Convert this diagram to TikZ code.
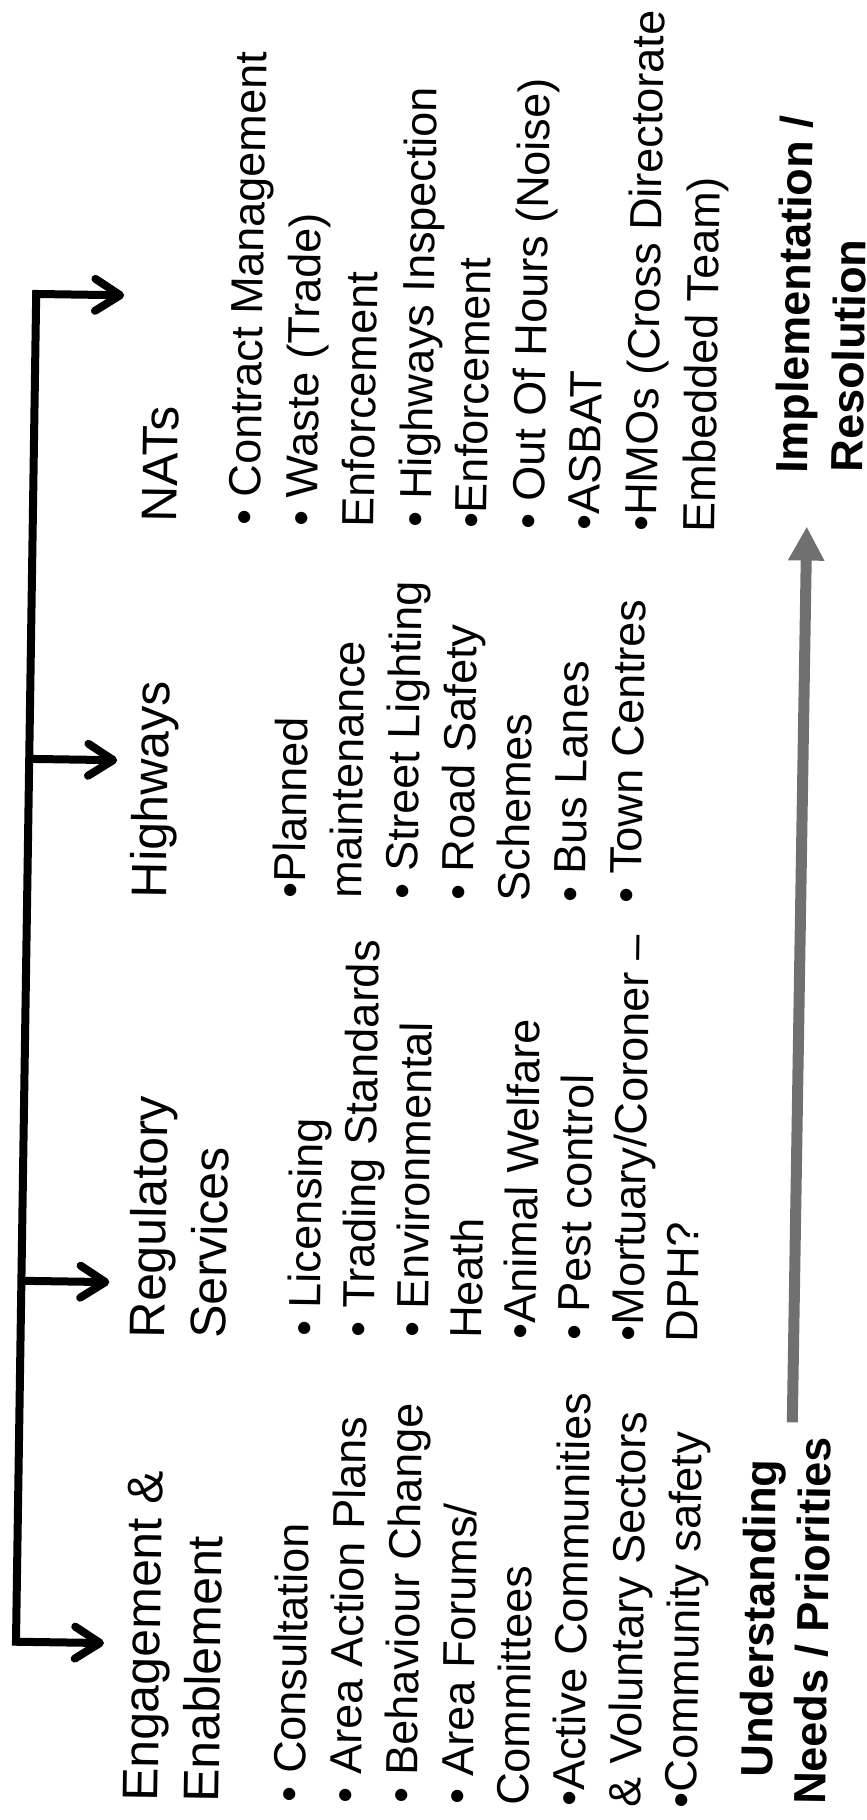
\documentclass[tikz,border=0pt]{standalone}
\usepackage{fontspec}
\setmainfont{Liberation Sans}
\usetikzlibrary{arrows.meta}
\definecolor{flowgray}{RGB}{112,112,112}
\begin{document}
\begin{tikzpicture}[x=1pt,y=-1pt,
  txt/.style={rotate=90, anchor=base west, inner sep=0pt, outer sep=0pt,
              font=\fontsize{45}{54}\selectfont},
  headtxt/.style={txt, font=\fontsize{50}{60}\selectfont},
  boldtxt/.style={txt, font=\fontsize{45}{54}\selectfont\bfseries},
  bracket/.style={line width=8pt, line join=miter, draw=black},
  barb/.tip={Straight Barb[length=25pt,width=32pt,round]},
  flow/.style={line width=11pt, draw=flowgray,
               -{Triangle[length=34pt,width=34pt,fill=flowgray]}},
]
\useasboundingbox (0,0) rectangle (867,1820);
\begin{scope}[rotate around={-0.86:(433.5,910)}, transform shape]

% ---- bracket feeding the four service groups ----
\coordinate (b4) at (27,300);
\coordinate (b3) at (27,765);
\coordinate (b2) at (27,1287);
\coordinate (b1) at (27,1648);
\coordinate (t4) at (115,300);
\coordinate (t3) at (115,765);
\coordinate (t2) at (115,1287);
\coordinate (t1) at (115,1648);
\draw[bracket, barb-barb] (t4) -- (b4) -- (b1) -- (t1);
\draw[bracket, -barb] (b3) -- (t3);
\draw[bracket, -barb] (b2) -- (t2);

% ---- Engagement & Enablement ----
\node[headtxt] (h1a) at (171,1806) {Engagement \&};
\node[headtxt] (h1b) at (232,1806) {Enablement};
\node[txt] (e1) at (318,1804) {• Consultation};
\node[txt] (e2) at (374,1804) {• Area Action Plans};
\node[txt] (e3) at (430,1804) {• Behaviour Change};
\node[txt] (e4) at (486,1804) {• Area Forums/};
\node[txt] (e5) at (542,1804) {Committees};
\node[txt] (e6) at (598,1804) {•Active Communities};
\node[txt] (e7) at (654,1804) {\& Voluntary Sectors};
\node[txt] (e8) at (710,1804) {•Community safety};

% ---- Regulatory Services ----
\node[headtxt] (h2a) at (171,1342) {Regulatory};
\node[headtxt] (h2b) at (232,1342) {Services};
\node[txt] (r1) at (326,1338) {• Licensing};
\node[txt] (r2) at (380,1338) {• Trading Standards};
\node[txt] (r3) at (434,1338) {• Environmental};
\node[txt] (r4) at (488,1338) {Heath};
\node[txt] (r5) at (542,1338) {•Animal Welfare};
\node[txt] (r6) at (596,1338) {• Pest control};
\node[txt] (r7) at (650,1338) {•Mortuary/Coroner –};
\node[txt] (r8) at (704,1338) {DPH?};

% ---- Highways ----
\node[headtxt] (h3) at (166,902) {Highways};
\node[txt] (w1) at (305,900) {•Planned};
\node[txt] (w2) at (361,900) {maintenance};
\node[txt] (w3) at (417,900) {• Street Lighting};
\node[txt] (w4) at (473,900) {• Road Safety};
\node[txt] (w5) at (529,900) {Schemes};
\node[txt] (w6) at (585,900) {• Bus Lanes};
\node[txt] (w7) at (641,900) {• Town Centres};

% ---- NATs ----
\node[headtxt] (h4) at (171,526) {NATs};
\node[txt] (n1) at (254,528) {• Contract Management};
\node[txt] (n2) at (311,528) {• Waste (Trade)};
\node[txt] (n3) at (368,528) {Enforcement};
\node[txt] (n4) at (425,528) {• Highways Inspection};
\node[txt] (n5) at (481,528) {•Enforcement};
\node[txt] (n6) at (538,528) {• Out Of Hours (Noise)};
\node[txt] (n7) at (594,528) {•ASBAT};
\node[txt] (n8) at (651,528) {•HMOs (Cross Directorate};
\node[txt] (n9) at (709,528) {Embedded Team)};

% ---- direction of travel ----
\node[boldtxt] (u1) at (785,1772) {Understanding};
\node[boldtxt] (u2) at (839,1799) {Needs / Priorities};
\node[boldtxt] (i1) at (801,468) {Implementation /};
\node[boldtxt] (i2) at (856,466) {Resolution};
\coordinate (ftail) at (800,1417);
\coordinate (ftip) at (801,521);
\draw[flow] (ftail) -- (ftip);

\end{scope}
\end{tikzpicture}
\end{document}
